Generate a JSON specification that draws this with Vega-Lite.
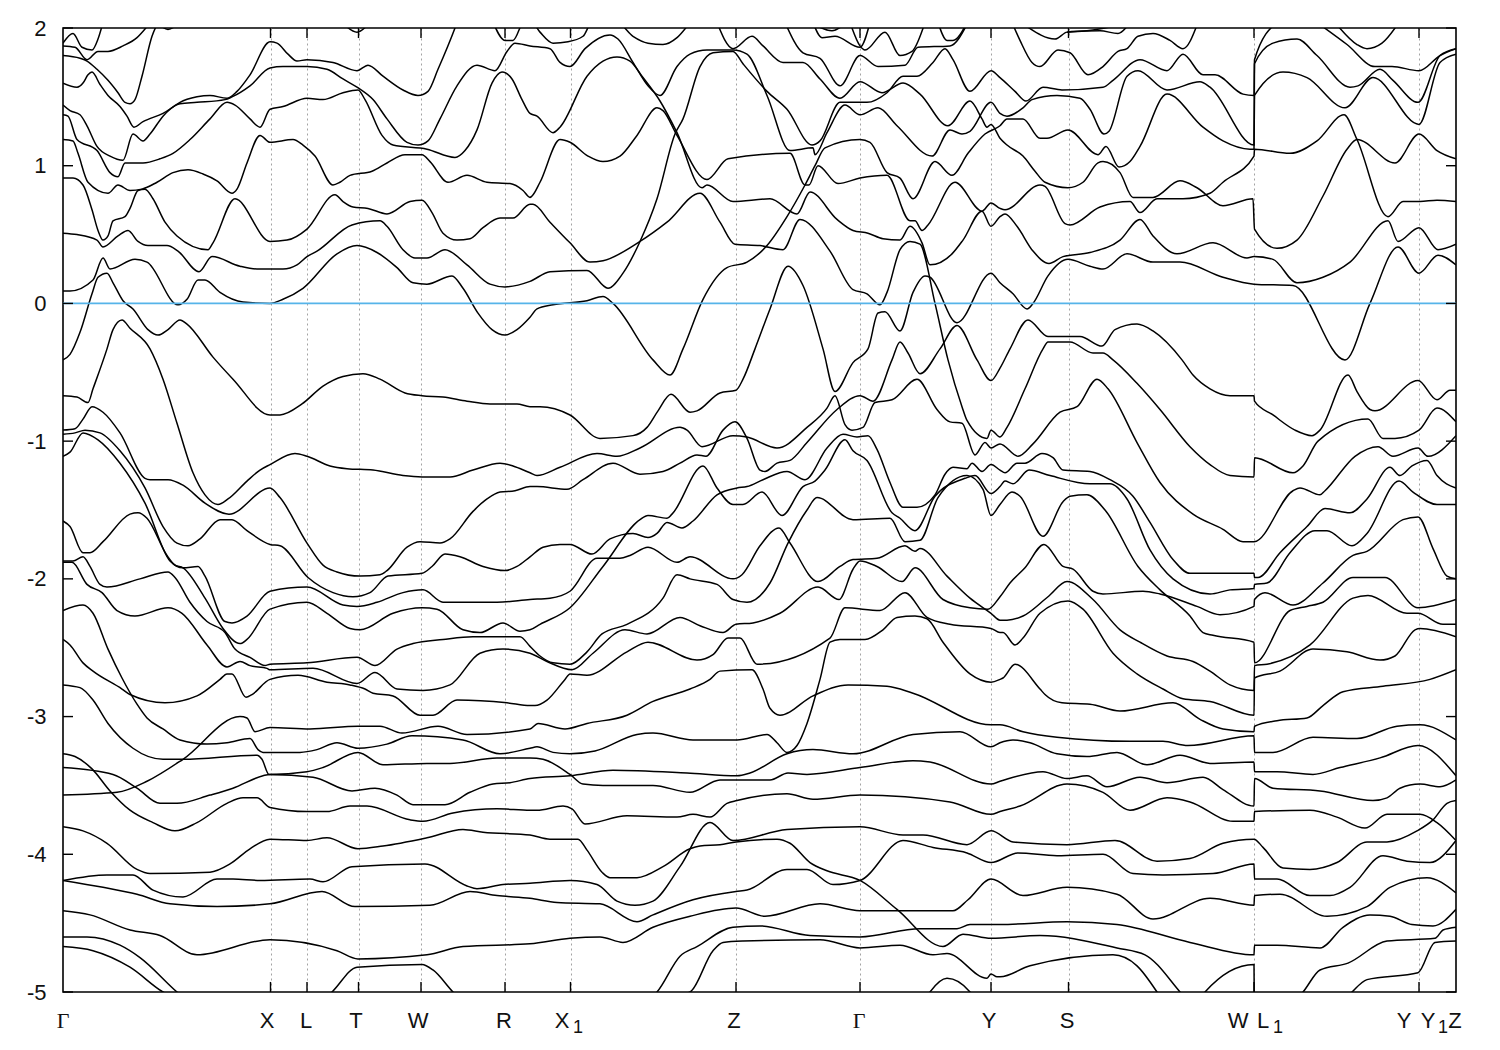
{"$schema":"https://vega.github.io/schema/vega-lite/v6.json","width":1393,"height":964,"autosize":{"type":"none"},"padding":{"left":63,"top":28,"right":44,"bottom":58},"background":"white","config":{"view":{"stroke":"#000","strokeWidth":1.6},"axis":{"labelFont":"Liberation Sans","labelFontSize":22,"labelColor":"#111","domain":false}},"datasets":{"bands":[
{"b":1,"x":63,"y":1.89},{"b":1,"x":73,"y":1.96},{"b":1,"x":82,"y":1.86},{"b":1,"x":92,"y":1.84},{"b":1,"x":98,"y":1.92},{"b":1,"x":103,"y":2.04},
{"b":2,"x":63,"y":1.87},{"b":2,"x":75,"y":1.86},{"b":2,"x":87,"y":1.77},{"b":2,"x":98,"y":1.83},{"b":2,"x":108,"y":1.83},{"b":2,"x":123,"y":1.87},{"b":2,"x":137,"y":1.93},{"b":2,"x":147,"y":2.01},
{"b":3,"x":63,"y":1.8},{"b":3,"x":80,"y":1.78},{"b":3,"x":87,"y":1.76},{"b":3,"x":97,"y":1.7},{"b":3,"x":108,"y":1.62},{"b":3,"x":118,"y":1.53},{"b":3,"x":125,"y":1.46},{"b":3,"x":130,"y":1.45},{"b":3,"x":135,"y":1.48},{"b":3,"x":142,"y":1.65},{"b":3,"x":152,"y":1.94},{"b":3,"x":158,"y":2.04},
{"b":4,"x":157,"y":2.04},{"b":4,"x":168,"y":1.99},{"b":4,"x":180,"y":2.04},
{"b":5,"x":342,"y":2.04},{"b":5,"x":357,"y":1.97},{"b":5,"x":370,"y":2.04},
{"b":6,"x":492,"y":2.06},{"b":6,"x":505,"y":1.91},{"b":6,"x":513,"y":1.91},{"b":6,"x":525,"y":2.06},{"b":6,"x":530,"y":2.06},{"b":6,"x":540,"y":1.97},{"b":6,"x":553,"y":1.89},{"b":6,"x":568,"y":1.9},{"b":6,"x":583,"y":1.94},{"b":6,"x":592,"y":2.04},{"b":6,"x":617,"y":2.04},{"b":6,"x":633,"y":1.94},{"b":6,"x":648,"y":1.89},{"b":6,"x":663,"y":1.88},{"b":6,"x":677,"y":1.93},{"b":6,"x":690,"y":2.04},
{"b":7,"x":63,"y":1.6},{"b":7,"x":77,"y":1.57},{"b":7,"x":83,"y":1.6},{"b":7,"x":88,"y":1.66},{"b":7,"x":92,"y":1.68},{"b":7,"x":100,"y":1.59},{"b":7,"x":108,"y":1.51},{"b":7,"x":120,"y":1.43},{"b":7,"x":127,"y":1.36},{"b":7,"x":134,"y":1.28},{"b":7,"x":143,"y":1.32},{"b":7,"x":163,"y":1.38},{"b":7,"x":180,"y":1.45},{"b":7,"x":197,"y":1.46},{"b":7,"x":225,"y":1.48},{"b":7,"x":232,"y":1.5},{"b":7,"x":250,"y":1.58},{"b":7,"x":270,"y":1.71},{"b":7,"x":283,"y":1.72},{"b":7,"x":307,"y":1.72},{"b":7,"x":327,"y":1.7},{"b":7,"x":343,"y":1.63},{"b":7,"x":357,"y":1.57},{"b":7,"x":373,"y":1.48},{"b":7,"x":387,"y":1.34},{"b":7,"x":407,"y":1.17},{"b":7,"x":418,"y":1.15},{"b":7,"x":428,"y":1.18},{"b":7,"x":440,"y":1.34},{"b":7,"x":457,"y":1.58},{"b":7,"x":477,"y":1.73},{"b":7,"x":495,"y":1.69},{"b":7,"x":507,"y":1.83},{"b":7,"x":515,"y":1.89},{"b":7,"x":530,"y":1.87},{"b":7,"x":550,"y":1.85},{"b":7,"x":560,"y":1.75},{"b":7,"x":570,"y":1.72},{"b":7,"x":585,"y":1.85},{"b":7,"x":610,"y":1.95},{"b":7,"x":618,"y":1.92},{"b":7,"x":633,"y":1.75},{"b":7,"x":648,"y":1.58},{"b":7,"x":660,"y":1.51},{"b":7,"x":677,"y":1.72},{"b":7,"x":690,"y":1.81},{"b":7,"x":707,"y":1.84},{"b":7,"x":733,"y":1.84},{"b":7,"x":747,"y":1.81},{"b":7,"x":767,"y":1.51},{"b":7,"x":790,"y":1.11},{"b":7,"x":813,"y":1.13},{"b":7,"x":815,"y":1.08},{"b":7,"x":827,"y":1.24},{"b":7,"x":845,"y":1.44},{"b":7,"x":860,"y":1.37},{"b":7,"x":878,"y":1.42},{"b":7,"x":897,"y":1.29},{"b":7,"x":932,"y":1.07},{"b":7,"x":950,"y":1.26},{"b":7,"x":962,"y":1.23},{"b":7,"x":970,"y":1.25},{"b":7,"x":991,"y":1.46},{"b":7,"x":1000,"y":1.38},{"b":7,"x":1007,"y":1.36},{"b":7,"x":1023,"y":1.42},{"b":7,"x":1032,"y":1.48},{"b":7,"x":1057,"y":1.51},{"b":7,"x":1080,"y":1.49},{"b":7,"x":1090,"y":1.41},{"b":7,"x":1104,"y":1.23},{"b":7,"x":1109,"y":1.25},{"b":7,"x":1127,"y":1.65},{"b":7,"x":1138,"y":1.69},{"b":7,"x":1167,"y":1.55},{"b":7,"x":1200,"y":1.61},{"b":7,"x":1210,"y":1.57},{"b":7,"x":1254,"y":1.15},{"b":7,"x":1254.5,"y":1.74},{"b":7,"x":1273,"y":1.89},{"b":7,"x":1297,"y":1.92},{"b":7,"x":1317,"y":1.8},{"b":7,"x":1350,"y":1.57},{"b":7,"x":1358,"y":1.58},{"b":7,"x":1380,"y":1.7},{"b":7,"x":1393,"y":1.62},{"b":7,"x":1418,"y":1.46},{"b":7,"x":1440,"y":1.8},{"b":7,"x":1456,"y":1.85},
{"b":8,"x":63,"y":1.44},{"b":8,"x":70,"y":1.4},{"b":8,"x":80,"y":1.37},{"b":8,"x":87,"y":1.29},{"b":8,"x":97,"y":1.14},{"b":8,"x":110,"y":1.07},{"b":8,"x":123,"y":1.04},{"b":8,"x":133,"y":1.23},{"b":8,"x":143,"y":1.18},{"b":8,"x":150,"y":1.23},{"b":8,"x":163,"y":1.36},{"b":8,"x":180,"y":1.46},{"b":8,"x":197,"y":1.5},{"b":8,"x":210,"y":1.51},{"b":8,"x":227,"y":1.49},{"b":8,"x":237,"y":1.54},{"b":8,"x":250,"y":1.66},{"b":8,"x":270,"y":1.9},{"b":8,"x":277,"y":1.89},{"b":8,"x":288,"y":1.81},{"b":8,"x":297,"y":1.76},{"b":8,"x":307,"y":1.77},{"b":8,"x":333,"y":1.75},{"b":8,"x":357,"y":1.69},{"b":8,"x":368,"y":1.73},{"b":8,"x":383,"y":1.65},{"b":8,"x":403,"y":1.55},{"b":8,"x":418,"y":1.51},{"b":8,"x":428,"y":1.54},{"b":8,"x":438,"y":1.7},{"b":8,"x":455,"y":2.0},{"b":8,"x":463,"y":2.16},
{"b":9,"x":63,"y":1.37},{"b":9,"x":68,"y":1.36},{"b":9,"x":77,"y":1.19},{"b":9,"x":97,"y":1.11},{"b":9,"x":110,"y":0.95},{"b":9,"x":118,"y":0.92},{"b":9,"x":125,"y":1.02},{"b":9,"x":143,"y":1.02},{"b":9,"x":160,"y":1.05},{"b":9,"x":173,"y":1.09},{"b":9,"x":190,"y":1.19},{"b":9,"x":210,"y":1.34},{"b":9,"x":227,"y":1.46},{"b":9,"x":235,"y":1.44},{"b":9,"x":250,"y":1.34},{"b":9,"x":260,"y":1.28},{"b":9,"x":270,"y":1.41},{"b":9,"x":283,"y":1.43},{"b":9,"x":307,"y":1.49},{"b":9,"x":323,"y":1.48},{"b":9,"x":343,"y":1.53},{"b":9,"x":358,"y":1.55},{"b":9,"x":365,"y":1.48},{"b":9,"x":382,"y":1.22},{"b":9,"x":393,"y":1.15},{"b":9,"x":427,"y":1.12},{"b":9,"x":455,"y":1.06},{"b":9,"x":465,"y":1.11},{"b":9,"x":477,"y":1.26},{"b":9,"x":492,"y":1.6},{"b":9,"x":502,"y":1.68},{"b":9,"x":512,"y":1.63},{"b":9,"x":522,"y":1.48},{"b":9,"x":530,"y":1.38},{"b":9,"x":537,"y":1.36},{"b":9,"x":553,"y":1.24},{"b":9,"x":560,"y":1.28},{"b":9,"x":587,"y":1.65},{"b":9,"x":603,"y":1.76},{"b":9,"x":617,"y":1.79},{"b":9,"x":630,"y":1.76},{"b":9,"x":643,"y":1.64},{"b":9,"x":660,"y":1.47},{"b":9,"x":677,"y":1.24},{"b":9,"x":702,"y":0.84},{"b":9,"x":707,"y":0.86},{"b":9,"x":733,"y":0.74},{"b":9,"x":770,"y":0.76},{"b":9,"x":797,"y":0.65},{"b":9,"x":810,"y":0.81},{"b":9,"x":837,"y":0.61},{"b":9,"x":853,"y":0.53},{"b":9,"x":868,"y":0.51},{"b":9,"x":883,"y":0.47},{"b":9,"x":900,"y":0.46},{"b":9,"x":910,"y":0.56},{"b":9,"x":922,"y":0.44},{"b":9,"x":930,"y":0.28},{"b":9,"x":952,"y":0.36},{"b":9,"x":963,"y":0.46},{"b":9,"x":982,"y":0.67},{"b":9,"x":991,"y":0.56},{"b":9,"x":1000,"y":0.63},{"b":9,"x":1005,"y":0.65},{"b":9,"x":1017,"y":0.56},{"b":9,"x":1033,"y":0.38},{"b":9,"x":1049,"y":0.29},{"b":9,"x":1063,"y":0.34},{"b":9,"x":1090,"y":0.37},{"b":9,"x":1120,"y":0.46},{"b":9,"x":1140,"y":0.61},{"b":9,"x":1153,"y":0.49},{"b":9,"x":1177,"y":0.36},{"b":9,"x":1213,"y":0.44},{"b":9,"x":1247,"y":0.33},{"b":9,"x":1254,"y":0.34},{"b":9,"x":1273,"y":0.32},{"b":9,"x":1297,"y":0.15},{"b":9,"x":1323,"y":0.19},{"b":9,"x":1350,"y":0.3},{"b":9,"x":1388,"y":0.6},{"b":9,"x":1398,"y":0.45},{"b":9,"x":1419,"y":0.55},{"b":9,"x":1438,"y":0.39},{"b":9,"x":1456,"y":0.43},
{"b":10,"x":63,"y":1.19},{"b":10,"x":73,"y":1.18},{"b":10,"x":78,"y":1.09},{"b":10,"x":88,"y":0.88},{"b":10,"x":108,"y":0.8},{"b":10,"x":118,"y":0.86},{"b":10,"x":130,"y":0.82},{"b":10,"x":142,"y":0.83},{"b":10,"x":157,"y":0.88},{"b":10,"x":173,"y":0.95},{"b":10,"x":188,"y":0.97},{"b":10,"x":203,"y":0.94},{"b":10,"x":217,"y":0.89},{"b":10,"x":232,"y":0.8},{"b":10,"x":237,"y":0.83},{"b":10,"x":247,"y":1.02},{"b":10,"x":260,"y":1.22},{"b":10,"x":270,"y":1.17},{"b":10,"x":293,"y":1.19},{"b":10,"x":303,"y":1.15},{"b":10,"x":315,"y":1.07},{"b":10,"x":333,"y":0.86},{"b":10,"x":340,"y":0.88},{"b":10,"x":350,"y":0.93},{"b":10,"x":372,"y":0.96},{"b":10,"x":387,"y":1.02},{"b":10,"x":405,"y":1.08},{"b":10,"x":422,"y":1.08},{"b":10,"x":430,"y":1.03},{"b":10,"x":448,"y":0.88},{"b":10,"x":467,"y":0.93},{"b":10,"x":487,"y":0.88},{"b":10,"x":510,"y":0.87},{"b":10,"x":523,"y":0.82},{"b":10,"x":530,"y":0.77},{"b":10,"x":532,"y":0.78},{"b":10,"x":540,"y":0.88},{"b":10,"x":560,"y":1.19},{"b":10,"x":570,"y":1.17},{"b":10,"x":588,"y":1.07},{"b":10,"x":603,"y":1.03},{"b":10,"x":620,"y":1.07},{"b":10,"x":637,"y":1.22},{"b":10,"x":657,"y":1.42},{"b":10,"x":663,"y":1.4},{"b":10,"x":677,"y":1.22},{"b":10,"x":707,"y":0.9},{"b":10,"x":728,"y":1.05},{"b":10,"x":790,"y":1.09},{"b":10,"x":805,"y":0.86},{"b":10,"x":809,"y":0.86},{"b":10,"x":818,"y":1.0},{"b":10,"x":838,"y":0.87},{"b":10,"x":860,"y":0.91},{"b":10,"x":887,"y":0.93},{"b":10,"x":910,"y":0.6},{"b":10,"x":915,"y":0.6},{"b":10,"x":922,"y":0.53},{"b":10,"x":928,"y":0.57},{"b":10,"x":955,"y":0.88},{"b":10,"x":982,"y":0.67},{"b":10,"x":991,"y":0.73},{"b":10,"x":1000,"y":0.69},{"b":10,"x":1005,"y":0.68},{"b":10,"x":1040,"y":0.86},{"b":10,"x":1045,"y":0.85},{"b":10,"x":1065,"y":0.58},{"b":10,"x":1070,"y":0.57},{"b":10,"x":1100,"y":0.7},{"b":10,"x":1130,"y":0.74},{"b":10,"x":1140,"y":0.66},{"b":10,"x":1157,"y":0.76},{"b":10,"x":1183,"y":0.76},{"b":10,"x":1210,"y":0.8},{"b":10,"x":1223,"y":0.88},{"b":10,"x":1254,"y":1.07},{"b":10,"x":1254.5,"y":1.12},{"b":10,"x":1290,"y":1.09},{"b":10,"x":1317,"y":1.18},{"b":10,"x":1344,"y":1.37},{"b":10,"x":1357,"y":1.19},{"b":10,"x":1388,"y":0.63},{"b":10,"x":1403,"y":0.74},{"b":10,"x":1420,"y":0.74},{"b":10,"x":1437,"y":0.75},{"b":10,"x":1456,"y":0.74},
{"b":11,"x":63,"y":0.91},{"b":11,"x":73,"y":0.91},{"b":11,"x":83,"y":0.86},{"b":11,"x":92,"y":0.68},{"b":11,"x":98,"y":0.53},{"b":11,"x":103,"y":0.46},{"b":11,"x":108,"y":0.49},{"b":11,"x":113,"y":0.6},{"b":11,"x":125,"y":0.63},{"b":11,"x":130,"y":0.69},{"b":11,"x":138,"y":0.82},{"b":11,"x":145,"y":0.83},{"b":11,"x":153,"y":0.76},{"b":11,"x":165,"y":0.59},{"b":11,"x":177,"y":0.49},{"b":11,"x":208,"y":0.39},{"b":11,"x":213,"y":0.44},{"b":11,"x":235,"y":0.76},{"b":11,"x":270,"y":0.45},{"b":11,"x":287,"y":0.46},{"b":11,"x":307,"y":0.54},{"b":11,"x":335,"y":0.79},{"b":11,"x":343,"y":0.74},{"b":11,"x":353,"y":0.7},{"b":11,"x":368,"y":0.69},{"b":11,"x":387,"y":0.65},{"b":11,"x":410,"y":0.74},{"b":11,"x":422,"y":0.75},{"b":11,"x":432,"y":0.66},{"b":11,"x":443,"y":0.51},{"b":11,"x":457,"y":0.46},{"b":11,"x":470,"y":0.47},{"b":11,"x":483,"y":0.55},{"b":11,"x":500,"y":0.62},{"b":11,"x":513,"y":0.62},{"b":11,"x":530,"y":0.72},{"b":11,"x":533,"y":0.72},{"b":11,"x":550,"y":0.59},{"b":11,"x":570,"y":0.44},{"b":11,"x":590,"y":0.3},{"b":11,"x":603,"y":0.31},{"b":11,"x":640,"y":0.45},{"b":11,"x":667,"y":0.59},{"b":11,"x":700,"y":0.8},{"b":11,"x":720,"y":0.59},{"b":11,"x":735,"y":0.43},{"b":11,"x":760,"y":0.42},{"b":11,"x":783,"y":0.39},{"b":11,"x":800,"y":0.61},{"b":11,"x":830,"y":0.38},{"b":11,"x":853,"y":0.1},{"b":11,"x":867,"y":0.07},{"b":11,"x":880,"y":-0.01},{"b":11,"x":887,"y":0.08},{"b":11,"x":900,"y":0.39},{"b":11,"x":910,"y":0.45},{"b":11,"x":920,"y":0.43},{"b":11,"x":935,"y":0.0},{"b":11,"x":948,"y":-0.41},{"b":11,"x":962,"y":-0.75},{"b":11,"x":967,"y":-0.85},{"b":11,"x":987,"y":-0.98},{"b":11,"x":991,"y":-0.92},{"b":11,"x":1000,"y":-0.97},{"b":11,"x":1007,"y":-0.9},{"b":11,"x":1025,"y":-0.62},{"b":11,"x":1043,"y":-0.33},{"b":11,"x":1048,"y":-0.28},{"b":11,"x":1070,"y":-0.28},{"b":11,"x":1093,"y":-0.36},{"b":11,"x":1103,"y":-0.36},{"b":11,"x":1113,"y":-0.41},{"b":11,"x":1137,"y":-0.58},{"b":11,"x":1160,"y":-0.77},{"b":11,"x":1190,"y":-1.04},{"b":11,"x":1210,"y":-1.17},{"b":11,"x":1230,"y":-1.25},{"b":11,"x":1254,"y":-1.26},{"b":11,"x":1254.5,"y":-1.12},{"b":11,"x":1293,"y":-1.23},{"b":11,"x":1303,"y":-1.18},{"b":11,"x":1318,"y":-1.0},{"b":11,"x":1368,"y":-0.84},{"b":11,"x":1383,"y":-0.98},{"b":11,"x":1395,"y":-0.98},{"b":11,"x":1419,"y":-0.92},{"b":11,"x":1437,"y":-0.76},{"b":11,"x":1456,"y":-0.86},
{"b":12,"x":63,"y":0.51},{"b":12,"x":77,"y":0.5},{"b":12,"x":97,"y":0.46},{"b":12,"x":103,"y":0.41},{"b":12,"x":118,"y":0.49},{"b":12,"x":128,"y":0.53},{"b":12,"x":138,"y":0.45},{"b":12,"x":148,"y":0.42},{"b":12,"x":167,"y":0.42},{"b":12,"x":178,"y":0.38},{"b":12,"x":199,"y":0.23},{"b":12,"x":212,"y":0.34},{"b":12,"x":240,"y":0.27},{"b":12,"x":257,"y":0.25},{"b":12,"x":283,"y":0.25},{"b":12,"x":297,"y":0.28},{"b":12,"x":307,"y":0.34},{"b":12,"x":317,"y":0.38},{"b":12,"x":352,"y":0.57},{"b":12,"x":380,"y":0.6},{"b":12,"x":387,"y":0.56},{"b":12,"x":403,"y":0.39},{"b":12,"x":415,"y":0.33},{"b":12,"x":427,"y":0.33},{"b":12,"x":445,"y":0.39},{"b":12,"x":467,"y":0.28},{"b":12,"x":490,"y":0.14},{"b":12,"x":505,"y":0.12},{"b":12,"x":530,"y":0.16},{"b":12,"x":550,"y":0.23},{"b":12,"x":587,"y":0.24},{"b":12,"x":608,"y":0.11},{"b":12,"x":623,"y":0.22},{"b":12,"x":640,"y":0.45},{"b":12,"x":657,"y":0.76},{"b":12,"x":675,"y":1.23},{"b":12,"x":683,"y":1.34},{"b":12,"x":700,"y":1.72},{"b":12,"x":713,"y":1.82},{"b":12,"x":733,"y":1.83},{"b":12,"x":743,"y":1.74},{"b":12,"x":767,"y":1.54},{"b":12,"x":787,"y":1.41},{"b":12,"x":812,"y":1.15},{"b":12,"x":820,"y":1.18},{"b":12,"x":840,"y":1.46},{"b":12,"x":867,"y":1.46},{"b":12,"x":887,"y":1.53},{"b":12,"x":903,"y":1.65},{"b":12,"x":917,"y":1.65},{"b":12,"x":933,"y":1.75},{"b":12,"x":945,"y":1.85},{"b":12,"x":953,"y":1.77},{"b":12,"x":970,"y":1.54},{"b":12,"x":991,"y":1.69},{"b":12,"x":1000,"y":1.64},{"b":12,"x":1015,"y":1.54},{"b":12,"x":1026,"y":1.47},{"b":12,"x":1043,"y":1.57},{"b":12,"x":1062,"y":1.55},{"b":12,"x":1103,"y":1.57},{"b":12,"x":1113,"y":1.62},{"b":12,"x":1140,"y":1.77},{"b":12,"x":1167,"y":1.69},{"b":12,"x":1183,"y":1.81},{"b":12,"x":1203,"y":1.66},{"b":12,"x":1215,"y":1.66},{"b":12,"x":1243,"y":1.52},{"b":12,"x":1254,"y":1.51},{"b":12,"x":1254.5,"y":1.77},{"b":12,"x":1277,"y":2.04},
{"b":13,"x":63,"y":0.09},{"b":13,"x":70,"y":0.09},{"b":13,"x":93,"y":0.17},{"b":13,"x":103,"y":0.33},{"b":13,"x":110,"y":0.25},{"b":13,"x":135,"y":0.32},{"b":13,"x":147,"y":0.3},{"b":13,"x":178,"y":-0.01},{"b":13,"x":187,"y":0.03},{"b":13,"x":198,"y":0.17},{"b":13,"x":205,"y":0.17},{"b":13,"x":220,"y":0.08},{"b":13,"x":243,"y":0.01},{"b":13,"x":270,"y":0.0},{"b":13,"x":283,"y":0.03},{"b":13,"x":303,"y":0.11},{"b":13,"x":337,"y":0.36},{"b":13,"x":357,"y":0.42},{"b":13,"x":377,"y":0.37},{"b":13,"x":397,"y":0.26},{"b":13,"x":413,"y":0.15},{"b":13,"x":427,"y":0.14},{"b":13,"x":452,"y":0.2},{"b":13,"x":463,"y":0.11},{"b":13,"x":478,"y":-0.07},{"b":13,"x":492,"y":-0.19},{"b":13,"x":505,"y":-0.23},{"b":13,"x":517,"y":-0.19},{"b":13,"x":530,"y":-0.1},{"b":13,"x":537,"y":-0.04},{"b":13,"x":553,"y":-0.01},{"b":13,"x":587,"y":0.02},{"b":13,"x":603,"y":0.05},{"b":13,"x":613,"y":0.0},{"b":13,"x":653,"y":-0.41},{"b":13,"x":670,"y":-0.52},{"b":13,"x":683,"y":-0.33},{"b":13,"x":703,"y":0.03},{"b":13,"x":727,"y":0.26},{"b":13,"x":747,"y":0.3},{"b":13,"x":767,"y":0.42},{"b":13,"x":787,"y":0.63},{"b":13,"x":805,"y":0.86},{"b":13,"x":815,"y":1.0},{"b":13,"x":825,"y":1.13},{"b":13,"x":860,"y":1.19},{"b":13,"x":870,"y":1.17},{"b":13,"x":887,"y":0.95},{"b":13,"x":900,"y":0.91},{"b":13,"x":913,"y":0.76},{"b":13,"x":935,"y":1.03},{"b":13,"x":952,"y":0.93},{"b":13,"x":968,"y":1.09},{"b":13,"x":985,"y":1.23},{"b":13,"x":1000,"y":1.29},{"b":13,"x":1007,"y":1.34},{"b":13,"x":1023,"y":1.34},{"b":13,"x":1040,"y":1.2},{"b":13,"x":1047,"y":1.2},{"b":13,"x":1068,"y":1.26},{"b":13,"x":1098,"y":1.08},{"b":13,"x":1106,"y":1.14},{"b":13,"x":1119,"y":0.99},{"b":13,"x":1130,"y":1.03},{"b":13,"x":1140,"y":1.14},{"b":13,"x":1167,"y":1.52},{"b":13,"x":1203,"y":1.28},{"b":13,"x":1223,"y":1.18},{"b":13,"x":1250,"y":1.12},{"b":13,"x":1254,"y":1.12},{"b":13,"x":1254.5,"y":1.51},{"b":13,"x":1283,"y":1.68},{"b":13,"x":1307,"y":1.64},{"b":13,"x":1345,"y":1.42},{"b":13,"x":1373,"y":1.64},{"b":13,"x":1419,"y":1.3},{"b":13,"x":1440,"y":1.75},{"b":13,"x":1456,"y":1.81},
{"b":14,"x":717,"y":2.04},{"b":14,"x":733,"y":1.85},{"b":14,"x":752,"y":1.94},{"b":14,"x":763,"y":1.87},{"b":14,"x":783,"y":1.75},{"b":14,"x":803,"y":1.75},{"b":14,"x":820,"y":1.63},{"b":14,"x":840,"y":1.49},{"b":14,"x":860,"y":1.61},{"b":14,"x":882,"y":1.53},{"b":14,"x":903,"y":1.6},{"b":14,"x":920,"y":1.52},{"b":14,"x":948,"y":1.29},{"b":14,"x":970,"y":1.47},{"b":14,"x":982,"y":1.34},{"b":14,"x":987,"y":1.28},{"b":14,"x":991,"y":1.3},{"b":14,"x":1000,"y":1.2},{"b":14,"x":1007,"y":1.15},{"b":14,"x":1023,"y":1.07},{"b":14,"x":1035,"y":0.96},{"b":14,"x":1045,"y":0.88},{"b":14,"x":1068,"y":0.84},{"b":14,"x":1083,"y":0.88},{"b":14,"x":1098,"y":1.02},{"b":14,"x":1103,"y":1.03},{"b":14,"x":1120,"y":0.95},{"b":14,"x":1133,"y":0.77},{"b":14,"x":1153,"y":0.77},{"b":14,"x":1180,"y":0.89},{"b":14,"x":1197,"y":0.84},{"b":14,"x":1223,"y":0.71},{"b":14,"x":1253,"y":0.76},{"b":14,"x":1254.5,"y":0.54},{"b":14,"x":1277,"y":0.4},{"b":14,"x":1297,"y":0.46},{"b":14,"x":1323,"y":0.78},{"b":14,"x":1347,"y":1.12},{"b":14,"x":1357,"y":1.19},{"b":14,"x":1395,"y":1.02},{"b":14,"x":1419,"y":1.23},{"b":14,"x":1437,"y":1.11},{"b":14,"x":1456,"y":1.05},
{"b":15,"x":63,"y":-0.41},{"b":15,"x":70,"y":-0.37},{"b":15,"x":80,"y":-0.21},{"b":15,"x":92,"y":0.07},{"b":15,"x":98,"y":0.19},{"b":15,"x":107,"y":0.22},{"b":15,"x":113,"y":0.15},{"b":15,"x":123,"y":0.02},{"b":15,"x":133,"y":-0.04},{"b":15,"x":148,"y":-0.19},{"b":15,"x":158,"y":-0.23},{"b":15,"x":168,"y":-0.19},{"b":15,"x":180,"y":-0.12},{"b":15,"x":187,"y":-0.15},{"b":15,"x":213,"y":-0.39},{"b":15,"x":233,"y":-0.55},{"b":15,"x":270,"y":-0.81},{"b":15,"x":280,"y":-0.81},{"b":15,"x":302,"y":-0.73},{"b":15,"x":323,"y":-0.6},{"b":15,"x":343,"y":-0.53},{"b":15,"x":363,"y":-0.51},{"b":15,"x":380,"y":-0.55},{"b":15,"x":405,"y":-0.65},{"b":15,"x":422,"y":-0.67},{"b":15,"x":443,"y":-0.68},{"b":15,"x":467,"y":-0.71},{"b":15,"x":490,"y":-0.73},{"b":15,"x":517,"y":-0.73},{"b":15,"x":530,"y":-0.75},{"b":15,"x":540,"y":-0.75},{"b":15,"x":570,"y":-0.81},{"b":15,"x":600,"y":-0.98},{"b":15,"x":633,"y":-0.96},{"b":15,"x":647,"y":-0.9},{"b":15,"x":658,"y":-0.78},{"b":15,"x":671,"y":-0.66},{"b":15,"x":690,"y":-0.79},{"b":15,"x":697,"y":-0.78},{"b":15,"x":720,"y":-0.65},{"b":15,"x":736,"y":-0.63},{"b":15,"x":743,"y":-0.55},{"b":15,"x":755,"y":-0.33},{"b":15,"x":770,"y":-0.04},{"b":15,"x":788,"y":0.27},{"b":15,"x":803,"y":0.13},{"b":15,"x":823,"y":-0.33},{"b":15,"x":835,"y":-0.64},{"b":15,"x":853,"y":-0.43},{"b":15,"x":868,"y":-0.33},{"b":15,"x":878,"y":-0.07},{"b":15,"x":885,"y":-0.06},{"b":15,"x":900,"y":-0.2},{"b":15,"x":913,"y":0.08},{"b":15,"x":925,"y":0.2},{"b":15,"x":930,"y":0.19},{"b":15,"x":957,"y":-0.14},{"b":15,"x":991,"y":0.22},{"b":15,"x":1000,"y":0.15},{"b":15,"x":1013,"y":0.07},{"b":15,"x":1027,"y":-0.04},{"b":15,"x":1033,"y":0.0},{"b":15,"x":1048,"y":0.2},{"b":15,"x":1068,"y":0.32},{"b":15,"x":1090,"y":0.27},{"b":15,"x":1103,"y":0.25},{"b":15,"x":1127,"y":0.36},{"b":15,"x":1153,"y":0.3},{"b":15,"x":1180,"y":0.3},{"b":15,"x":1223,"y":0.19},{"b":15,"x":1254,"y":0.14},{"b":15,"x":1293,"y":0.13},{"b":15,"x":1345,"y":-0.41},{"b":15,"x":1370,"y":0.0},{"b":15,"x":1398,"y":0.41},{"b":15,"x":1419,"y":0.22},{"b":15,"x":1438,"y":0.35},{"b":15,"x":1456,"y":0.28},
{"b":16,"x":63,"y":-0.67},{"b":16,"x":77,"y":-0.68},{"b":16,"x":88,"y":-0.72},{"b":16,"x":93,"y":-0.62},{"b":16,"x":107,"y":-0.33},{"b":16,"x":113,"y":-0.19},{"b":16,"x":122,"y":-0.12},{"b":16,"x":130,"y":-0.18},{"b":16,"x":150,"y":-0.33},{"b":16,"x":163,"y":-0.55},{"b":16,"x":177,"y":-0.87},{"b":16,"x":193,"y":-1.23},{"b":16,"x":205,"y":-1.39},{"b":16,"x":218,"y":-1.46},{"b":16,"x":228,"y":-1.42},{"b":16,"x":247,"y":-1.29},{"b":16,"x":260,"y":-1.21},{"b":16,"x":270,"y":-1.17},{"b":16,"x":295,"y":-1.09},{"b":16,"x":307,"y":-1.11},{"b":16,"x":330,"y":-1.18},{"b":16,"x":347,"y":-1.2},{"b":16,"x":373,"y":-1.21},{"b":16,"x":403,"y":-1.25},{"b":16,"x":422,"y":-1.26},{"b":16,"x":450,"y":-1.26},{"b":16,"x":473,"y":-1.21},{"b":16,"x":500,"y":-1.16},{"b":16,"x":513,"y":-1.18},{"b":16,"x":530,"y":-1.23},{"b":16,"x":537,"y":-1.25},{"b":16,"x":560,"y":-1.19},{"b":16,"x":597,"y":-1.09},{"b":16,"x":617,"y":-1.11},{"b":16,"x":640,"y":-1.05},{"b":16,"x":680,"y":-0.9},{"b":16,"x":687,"y":-0.92},{"b":16,"x":702,"y":-1.04},{"b":16,"x":733,"y":-0.96},{"b":16,"x":747,"y":-0.97},{"b":16,"x":777,"y":-1.05},{"b":16,"x":807,"y":-0.9},{"b":16,"x":827,"y":-0.76},{"b":16,"x":835,"y":-0.67},{"b":16,"x":845,"y":-0.88},{"b":16,"x":852,"y":-0.92},{"b":16,"x":863,"y":-0.9},{"b":16,"x":875,"y":-0.72},{"b":16,"x":892,"y":-0.7},{"b":16,"x":917,"y":-0.55},{"b":16,"x":937,"y":-0.77},{"b":16,"x":950,"y":-0.86},{"b":16,"x":962,"y":-0.87},{"b":16,"x":975,"y":-1.1},{"b":16,"x":985,"y":-1.01},{"b":16,"x":991,"y":-1.05},{"b":16,"x":1000,"y":-1.02},{"b":16,"x":1018,"y":-1.11},{"b":16,"x":1033,"y":-1.02},{"b":16,"x":1060,"y":-0.79},{"b":16,"x":1077,"y":-0.75},{"b":16,"x":1097,"y":-0.55},{"b":16,"x":1108,"y":-0.62},{"b":16,"x":1137,"y":-1.01},{"b":16,"x":1160,"y":-1.3},{"b":16,"x":1193,"y":-1.53},{"b":16,"x":1223,"y":-1.64},{"b":16,"x":1243,"y":-1.73},{"b":16,"x":1254,"y":-1.73},{"b":16,"x":1293,"y":-1.36},{"b":16,"x":1300,"y":-1.34},{"b":16,"x":1320,"y":-1.39},{"b":16,"x":1325,"y":-1.36},{"b":16,"x":1355,"y":-1.11},{"b":16,"x":1378,"y":-1.04},{"b":16,"x":1393,"y":-1.11},{"b":16,"x":1418,"y":-1.05},{"b":16,"x":1428,"y":-1.11},{"b":16,"x":1456,"y":-0.96},
{"b":17,"x":63,"y":-0.92},{"b":17,"x":75,"y":-0.91},{"b":17,"x":83,"y":-0.84},{"b":17,"x":92,"y":-0.75},{"b":17,"x":103,"y":-0.79},{"b":17,"x":120,"y":-0.94},{"b":17,"x":145,"y":-1.27},{"b":17,"x":150,"y":-1.28},{"b":17,"x":168,"y":-1.28},{"b":17,"x":183,"y":-1.32},{"b":17,"x":205,"y":-1.45},{"b":17,"x":229,"y":-1.53},{"b":17,"x":270,"y":-1.34},{"b":17,"x":280,"y":-1.41},{"b":17,"x":307,"y":-1.74},{"b":17,"x":323,"y":-1.9},{"b":17,"x":337,"y":-1.95},{"b":17,"x":360,"y":-1.98},{"b":17,"x":380,"y":-1.97},{"b":17,"x":387,"y":-1.94},{"b":17,"x":407,"y":-1.77},{"b":17,"x":420,"y":-1.73},{"b":17,"x":440,"y":-1.74},{"b":17,"x":450,"y":-1.71},{"b":17,"x":473,"y":-1.51},{"b":17,"x":487,"y":-1.42},{"b":17,"x":500,"y":-1.37},{"b":17,"x":515,"y":-1.36},{"b":17,"x":530,"y":-1.33},{"b":17,"x":537,"y":-1.33},{"b":17,"x":567,"y":-1.35},{"b":17,"x":583,"y":-1.28},{"b":17,"x":613,"y":-1.16},{"b":17,"x":640,"y":-1.24},{"b":17,"x":663,"y":-1.22},{"b":17,"x":680,"y":-1.16},{"b":17,"x":697,"y":-1.1},{"b":17,"x":706,"y":-1.11},{"b":17,"x":723,"y":-0.92},{"b":17,"x":735,"y":-0.86},{"b":17,"x":747,"y":-0.98},{"b":17,"x":760,"y":-1.21},{"b":17,"x":765,"y":-1.22},{"b":17,"x":777,"y":-1.16},{"b":17,"x":790,"y":-1.14},{"b":17,"x":807,"y":-1.01},{"b":17,"x":837,"y":-0.77},{"b":17,"x":860,"y":-0.67},{"b":17,"x":873,"y":-0.71},{"b":17,"x":892,"y":-0.41},{"b":17,"x":900,"y":-0.28},{"b":17,"x":908,"y":-0.36},{"b":17,"x":920,"y":-0.51},{"b":17,"x":940,"y":-0.33},{"b":17,"x":957,"y":-0.16},{"b":17,"x":977,"y":-0.41},{"b":17,"x":991,"y":-0.56},{"b":17,"x":1000,"y":-0.47},{"b":17,"x":1010,"y":-0.33},{"b":17,"x":1028,"y":-0.12},{"b":17,"x":1048,"y":-0.24},{"b":17,"x":1080,"y":-0.24},{"b":17,"x":1102,"y":-0.31},{"b":17,"x":1115,"y":-0.19},{"b":17,"x":1137,"y":-0.15},{"b":17,"x":1153,"y":-0.2},{"b":17,"x":1182,"y":-0.41},{"b":17,"x":1193,"y":-0.52},{"b":17,"x":1210,"y":-0.62},{"b":17,"x":1230,"y":-0.67},{"b":17,"x":1254,"y":-0.67},{"b":17,"x":1254.5,"y":-0.71},{"b":17,"x":1273,"y":-0.81},{"b":17,"x":1295,"y":-0.92},{"b":17,"x":1312,"y":-0.96},{"b":17,"x":1320,"y":-0.92},{"b":17,"x":1348,"y":-0.52},{"b":17,"x":1357,"y":-0.64},{"b":17,"x":1370,"y":-0.77},{"b":17,"x":1375,"y":-0.78},{"b":17,"x":1418,"y":-0.56},{"b":17,"x":1437,"y":-0.7},{"b":17,"x":1450,"y":-0.63},{"b":17,"x":1456,"y":-0.63},
{"b":18,"x":63,"y":-0.95},{"b":18,"x":75,"y":-0.94},{"b":18,"x":85,"y":-0.92},{"b":18,"x":100,"y":-0.94},{"b":18,"x":120,"y":-1.07},{"b":18,"x":145,"y":-1.34},{"b":18,"x":163,"y":-1.62},{"b":18,"x":177,"y":-1.74},{"b":18,"x":188,"y":-1.76},{"b":18,"x":200,"y":-1.71},{"b":18,"x":220,"y":-1.57},{"b":18,"x":232,"y":-1.57},{"b":18,"x":247,"y":-1.65},{"b":18,"x":270,"y":-1.75},{"b":18,"x":280,"y":-1.76},{"b":18,"x":308,"y":-1.99},{"b":18,"x":333,"y":-2.1},{"b":18,"x":353,"y":-2.13},{"b":18,"x":370,"y":-2.1},{"b":18,"x":388,"y":-1.98},{"b":18,"x":422,"y":-1.96},{"b":18,"x":432,"y":-1.91},{"b":18,"x":445,"y":-1.82},{"b":18,"x":460,"y":-1.84},{"b":18,"x":483,"y":-1.91},{"b":18,"x":505,"y":-1.94},{"b":18,"x":517,"y":-1.91},{"b":18,"x":530,"y":-1.84},{"b":18,"x":543,"y":-1.77},{"b":18,"x":560,"y":-1.75},{"b":18,"x":570,"y":-1.75},{"b":18,"x":592,"y":-1.82},{"b":18,"x":610,"y":-1.71},{"b":18,"x":633,"y":-1.67},{"b":18,"x":648,"y":-1.7},{"b":18,"x":657,"y":-1.67},{"b":18,"x":667,"y":-1.59},{"b":18,"x":682,"y":-1.63},{"b":18,"x":693,"y":-1.58},{"b":18,"x":717,"y":-1.39},{"b":18,"x":737,"y":-1.34},{"b":18,"x":747,"y":-1.33},{"b":18,"x":763,"y":-1.28},{"b":18,"x":787,"y":-1.22},{"b":18,"x":805,"y":-1.28},{"b":18,"x":827,"y":-1.05},{"b":18,"x":843,"y":-0.95},{"b":18,"x":857,"y":-0.97},{"b":18,"x":868,"y":-0.96},{"b":18,"x":877,"y":-1.06},{"b":18,"x":890,"y":-1.3},{"b":18,"x":903,"y":-1.48},{"b":18,"x":917,"y":-1.48},{"b":18,"x":935,"y":-1.39},{"b":18,"x":945,"y":-1.24},{"b":18,"x":953,"y":-1.19},{"b":18,"x":967,"y":-1.2},{"b":18,"x":972,"y":-1.16},{"b":18,"x":982,"y":-1.22},{"b":18,"x":991,"y":-1.17},{"b":18,"x":1000,"y":-1.21},{"b":18,"x":1005,"y":-1.23},{"b":18,"x":1017,"y":-1.16},{"b":18,"x":1025,"y":-1.16},{"b":18,"x":1042,"y":-1.09},{"b":18,"x":1053,"y":-1.12},{"b":18,"x":1063,"y":-1.21},{"b":18,"x":1090,"y":-1.22},{"b":18,"x":1110,"y":-1.28},{"b":18,"x":1133,"y":-1.4},{"b":18,"x":1150,"y":-1.59},{"b":18,"x":1173,"y":-1.86},{"b":18,"x":1190,"y":-1.96},{"b":18,"x":1220,"y":-1.96},{"b":18,"x":1254,"y":-1.96},{"b":18,"x":1254.5,"y":-1.99},{"b":18,"x":1258,"y":-1.99},{"b":18,"x":1280,"y":-1.81},{"b":18,"x":1307,"y":-1.62},{"b":18,"x":1325,"y":-1.49},{"b":18,"x":1350,"y":-1.52},{"b":18,"x":1367,"y":-1.42},{"b":18,"x":1390,"y":-1.19},{"b":18,"x":1400,"y":-1.25},{"b":18,"x":1412,"y":-1.18},{"b":18,"x":1427,"y":-1.14},{"b":18,"x":1437,"y":-1.25},{"b":18,"x":1456,"y":-1.34},
{"b":19,"x":63,"y":-1.11},{"b":19,"x":70,"y":-1.08},{"b":19,"x":83,"y":-0.94},{"b":19,"x":98,"y":-0.99},{"b":19,"x":120,"y":-1.16},{"b":19,"x":145,"y":-1.45},{"b":19,"x":170,"y":-1.87},{"b":19,"x":183,"y":-1.92},{"b":19,"x":198,"y":-1.91},{"b":19,"x":205,"y":-1.98},{"b":19,"x":225,"y":-2.31},{"b":19,"x":232,"y":-2.32},{"b":19,"x":247,"y":-2.27},{"b":19,"x":270,"y":-2.09},{"b":19,"x":307,"y":-2.06},{"b":19,"x":343,"y":-2.19},{"b":19,"x":357,"y":-2.2},{"b":19,"x":377,"y":-2.17},{"b":19,"x":403,"y":-2.1},{"b":19,"x":423,"y":-2.08},{"b":19,"x":443,"y":-2.17},{"b":19,"x":497,"y":-2.17},{"b":19,"x":530,"y":-2.15},{"b":19,"x":550,"y":-2.14},{"b":19,"x":570,"y":-2.09},{"b":19,"x":597,"y":-1.85},{"b":19,"x":620,"y":-1.85},{"b":19,"x":630,"y":-1.83},{"b":19,"x":648,"y":-1.77},{"b":19,"x":677,"y":-1.88},{"b":19,"x":690,"y":-1.84},{"b":19,"x":733,"y":-2.0},{"b":19,"x":742,"y":-1.97},{"b":19,"x":760,"y":-1.76},{"b":19,"x":779,"y":-1.63},{"b":19,"x":790,"y":-1.74},{"b":19,"x":818,"y":-2.02},{"b":19,"x":840,"y":-1.91},{"b":19,"x":853,"y":-1.86},{"b":19,"x":877,"y":-1.85},{"b":19,"x":905,"y":-1.76},{"b":19,"x":915,"y":-1.8},{"b":19,"x":920,"y":-1.78},{"b":19,"x":947,"y":-1.98},{"b":19,"x":970,"y":-2.14},{"b":19,"x":991,"y":-2.25},{"b":19,"x":1000,"y":-2.3},{"b":19,"x":1007,"y":-2.3},{"b":19,"x":1023,"y":-2.27},{"b":19,"x":1048,"y":-2.13},{"b":19,"x":1067,"y":-2.02},{"b":19,"x":1093,"y":-2.15},{"b":19,"x":1120,"y":-2.37},{"b":19,"x":1140,"y":-2.46},{"b":19,"x":1167,"y":-2.56},{"b":19,"x":1193,"y":-2.6},{"b":19,"x":1210,"y":-2.67},{"b":19,"x":1230,"y":-2.77},{"b":19,"x":1254,"y":-2.81},{"b":19,"x":1254.5,"y":-2.63},{"b":19,"x":1267,"y":-2.62},{"b":19,"x":1310,"y":-2.48},{"b":19,"x":1353,"y":-2.14},{"b":19,"x":1368,"y":-2.12},{"b":19,"x":1407,"y":-2.25},{"b":19,"x":1418,"y":-2.25},{"b":19,"x":1443,"y":-2.33},{"b":19,"x":1456,"y":-2.33},
{"b":20,"x":63,"y":-1.58},{"b":20,"x":70,"y":-1.62},{"b":20,"x":83,"y":-1.81},{"b":20,"x":90,"y":-1.81},{"b":20,"x":103,"y":-1.73},{"b":20,"x":130,"y":-1.53},{"b":20,"x":138,"y":-1.52},{"b":20,"x":147,"y":-1.56},{"b":20,"x":167,"y":-1.83},{"b":20,"x":175,"y":-1.9},{"b":20,"x":183,"y":-1.92},{"b":20,"x":205,"y":-2.14},{"b":20,"x":223,"y":-2.36},{"b":20,"x":240,"y":-2.47},{"b":20,"x":247,"y":-2.44},{"b":20,"x":270,"y":-2.22},{"b":20,"x":307,"y":-2.17},{"b":20,"x":327,"y":-2.25},{"b":20,"x":350,"y":-2.36},{"b":20,"x":360,"y":-2.37},{"b":20,"x":393,"y":-2.25},{"b":20,"x":422,"y":-2.21},{"b":20,"x":437,"y":-2.22},{"b":20,"x":463,"y":-2.37},{"b":20,"x":480,"y":-2.39},{"b":20,"x":503,"y":-2.32},{"b":20,"x":520,"y":-2.38},{"b":20,"x":530,"y":-2.37},{"b":20,"x":540,"y":-2.33},{"b":20,"x":570,"y":-2.21},{"b":20,"x":603,"y":-1.91},{"b":20,"x":640,"y":-1.57},{"b":20,"x":648,"y":-1.54},{"b":20,"x":667,"y":-1.56},{"b":20,"x":672,"y":-1.53},{"b":20,"x":703,"y":-1.18},{"b":20,"x":717,"y":-1.34},{"b":20,"x":733,"y":-1.46},{"b":20,"x":743,"y":-1.46},{"b":20,"x":762,"y":-1.37},{"b":20,"x":782,"y":-1.54},{"b":20,"x":803,"y":-1.33},{"b":20,"x":815,"y":-1.29},{"b":20,"x":825,"y":-1.21},{"b":20,"x":845,"y":-0.99},{"b":20,"x":853,"y":-1.07},{"b":20,"x":867,"y":-1.14},{"b":20,"x":892,"y":-1.52},{"b":20,"x":900,"y":-1.56},{"b":20,"x":915,"y":-1.65},{"b":20,"x":935,"y":-1.4},{"b":20,"x":965,"y":-1.27},{"b":20,"x":975,"y":-1.25},{"b":20,"x":991,"y":-1.38},{"b":20,"x":1000,"y":-1.33},{"b":20,"x":1005,"y":-1.29},{"b":20,"x":1013,"y":-1.31},{"b":20,"x":1029,"y":-1.21},{"b":20,"x":1050,"y":-1.25},{"b":20,"x":1090,"y":-1.31},{"b":20,"x":1110,"y":-1.31},{"b":20,"x":1127,"y":-1.42},{"b":20,"x":1150,"y":-1.79},{"b":20,"x":1173,"y":-2.0},{"b":20,"x":1210,"y":-2.11},{"b":20,"x":1230,"y":-2.08},{"b":20,"x":1254,"y":-2.07},{"b":20,"x":1254.5,"y":-2.04},{"b":20,"x":1267,"y":-2.03},{"b":20,"x":1290,"y":-1.81},{"b":20,"x":1315,"y":-1.65},{"b":20,"x":1327,"y":-1.65},{"b":20,"x":1352,"y":-1.76},{"b":20,"x":1367,"y":-1.67},{"b":20,"x":1399,"y":-1.29},{"b":20,"x":1413,"y":-1.37},{"b":20,"x":1437,"y":-1.46},{"b":20,"x":1456,"y":-1.46},
{"b":21,"x":63,"y":-1.87},{"b":21,"x":73,"y":-1.87},{"b":21,"x":83,"y":-1.84},{"b":21,"x":90,"y":-1.91},{"b":21,"x":100,"y":-2.04},{"b":21,"x":107,"y":-2.06},{"b":21,"x":140,"y":-2.0},{"b":21,"x":168,"y":-1.95},{"b":21,"x":175,"y":-1.99},{"b":21,"x":190,"y":-2.17},{"b":21,"x":207,"y":-2.31},{"b":21,"x":225,"y":-2.39},{"b":21,"x":235,"y":-2.51},{"b":21,"x":250,"y":-2.57},{"b":21,"x":265,"y":-2.63},{"b":21,"x":270,"y":-2.62},{"b":21,"x":307,"y":-2.61},{"b":21,"x":357,"y":-2.57},{"b":21,"x":375,"y":-2.63},{"b":21,"x":397,"y":-2.51},{"b":21,"x":413,"y":-2.47},{"b":21,"x":443,"y":-2.44},{"b":21,"x":473,"y":-2.42},{"b":21,"x":520,"y":-2.42},{"b":21,"x":530,"y":-2.49},{"b":21,"x":540,"y":-2.56},{"b":21,"x":553,"y":-2.61},{"b":21,"x":570,"y":-2.62},{"b":21,"x":587,"y":-2.53},{"b":21,"x":602,"y":-2.4},{"b":21,"x":627,"y":-2.33},{"b":21,"x":663,"y":-2.14},{"b":21,"x":677,"y":-1.97},{"b":21,"x":690,"y":-2.0},{"b":21,"x":717,"y":-2.04},{"b":21,"x":733,"y":-2.15},{"b":21,"x":747,"y":-2.17},{"b":21,"x":770,"y":-2.03},{"b":21,"x":788,"y":-1.74},{"b":21,"x":807,"y":-1.5},{"b":21,"x":817,"y":-1.41},{"b":21,"x":853,"y":-1.57},{"b":21,"x":890,"y":-1.56},{"b":21,"x":905,"y":-1.73},{"b":21,"x":920,"y":-1.72},{"b":21,"x":938,"y":-1.41},{"b":21,"x":967,"y":-1.25},{"b":21,"x":983,"y":-1.35},{"b":21,"x":991,"y":-1.54},{"b":21,"x":1000,"y":-1.46},{"b":21,"x":1012,"y":-1.37},{"b":21,"x":1020,"y":-1.4},{"b":21,"x":1043,"y":-1.69},{"b":21,"x":1063,"y":-1.44},{"b":21,"x":1070,"y":-1.4},{"b":21,"x":1087,"y":-1.39},{"b":21,"x":1105,"y":-1.5},{"b":21,"x":1138,"y":-1.91},{"b":21,"x":1160,"y":-2.08},{"b":21,"x":1190,"y":-2.27},{"b":21,"x":1203,"y":-2.39},{"b":21,"x":1213,"y":-2.41},{"b":21,"x":1254,"y":-2.46},{"b":21,"x":1254.5,"y":-2.61},{"b":21,"x":1290,"y":-2.23},{"b":21,"x":1307,"y":-2.2},{"b":21,"x":1323,"y":-2.17},{"b":21,"x":1353,"y":-1.99},{"b":21,"x":1385,"y":-1.99},{"b":21,"x":1418,"y":-2.21},{"b":21,"x":1456,"y":-2.15},
{"b":22,"x":63,"y":-1.88},{"b":22,"x":72,"y":-1.88},{"b":22,"x":87,"y":-2.04},{"b":22,"x":102,"y":-2.1},{"b":22,"x":117,"y":-2.23},{"b":22,"x":135,"y":-2.27},{"b":22,"x":168,"y":-2.21},{"b":22,"x":182,"y":-2.25},{"b":22,"x":207,"y":-2.48},{"b":22,"x":227,"y":-2.64},{"b":22,"x":240,"y":-2.6},{"b":22,"x":250,"y":-2.63},{"b":22,"x":267,"y":-2.65},{"b":22,"x":270,"y":-2.66},{"b":22,"x":313,"y":-2.65},{"b":22,"x":357,"y":-2.76},{"b":22,"x":375,"y":-2.68},{"b":22,"x":397,"y":-2.8},{"b":22,"x":423,"y":-2.81},{"b":22,"x":450,"y":-2.77},{"b":22,"x":480,"y":-2.54},{"b":22,"x":503,"y":-2.51},{"b":22,"x":530,"y":-2.54},{"b":22,"x":547,"y":-2.6},{"b":22,"x":572,"y":-2.66},{"b":22,"x":593,"y":-2.54},{"b":22,"x":625,"y":-2.37},{"b":22,"x":647,"y":-2.4},{"b":22,"x":680,"y":-2.28},{"b":22,"x":700,"y":-2.34},{"b":22,"x":723,"y":-2.39},{"b":22,"x":736,"y":-2.33},{"b":22,"x":753,"y":-2.32},{"b":22,"x":780,"y":-2.25},{"b":22,"x":818,"y":-2.06},{"b":22,"x":839,"y":-2.15},{"b":22,"x":853,"y":-1.93},{"b":22,"x":860,"y":-1.87},{"b":22,"x":877,"y":-1.91},{"b":22,"x":902,"y":-2.02},{"b":22,"x":915,"y":-1.92},{"b":22,"x":943,"y":-2.15},{"b":22,"x":970,"y":-2.21},{"b":22,"x":988,"y":-2.22},{"b":22,"x":1000,"y":-2.13},{"b":22,"x":1010,"y":-2.03},{"b":22,"x":1025,"y":-1.92},{"b":22,"x":1044,"y":-1.75},{"b":22,"x":1063,"y":-1.91},{"b":22,"x":1073,"y":-1.93},{"b":22,"x":1093,"y":-2.09},{"b":22,"x":1103,"y":-2.11},{"b":22,"x":1143,"y":-2.09},{"b":22,"x":1160,"y":-2.11},{"b":22,"x":1197,"y":-2.2},{"b":22,"x":1220,"y":-2.26},{"b":22,"x":1254,"y":-2.2},{"b":22,"x":1254.5,"y":-2.15},{"b":22,"x":1265,"y":-2.1},{"b":22,"x":1293,"y":-2.19},{"b":22,"x":1323,"y":-2.03},{"b":22,"x":1353,"y":-1.83},{"b":22,"x":1367,"y":-1.8},{"b":22,"x":1403,"y":-1.57},{"b":22,"x":1418,"y":-1.55},{"b":22,"x":1433,"y":-1.78},{"b":22,"x":1447,"y":-1.98},{"b":22,"x":1456,"y":-2.0},
{"b":23,"x":63,"y":-2.44},{"b":23,"x":70,"y":-2.48},{"b":23,"x":83,"y":-2.61},{"b":23,"x":93,"y":-2.67},{"b":23,"x":122,"y":-2.8},{"b":23,"x":130,"y":-2.84},{"b":23,"x":165,"y":-2.9},{"b":23,"x":197,"y":-2.85},{"b":23,"x":220,"y":-2.73},{"b":23,"x":227,"y":-2.69},{"b":23,"x":232,"y":-2.69},{"b":23,"x":246,"y":-2.86},{"b":23,"x":252,"y":-2.84},{"b":23,"x":270,"y":-2.73},{"b":23,"x":298,"y":-2.7},{"b":23,"x":327,"y":-2.75},{"b":23,"x":350,"y":-2.77},{"b":23,"x":365,"y":-2.8},{"b":23,"x":373,"y":-2.83},{"b":23,"x":393,"y":-2.85},{"b":23,"x":420,"y":-2.99},{"b":23,"x":433,"y":-2.99},{"b":23,"x":457,"y":-2.88},{"b":23,"x":507,"y":-2.9},{"b":23,"x":530,"y":-2.92},{"b":23,"x":535,"y":-2.92},{"b":23,"x":547,"y":-2.88},{"b":23,"x":565,"y":-2.73},{"b":23,"x":570,"y":-2.69},{"b":23,"x":587,"y":-2.7},{"b":23,"x":627,"y":-2.53},{"b":23,"x":648,"y":-2.46},{"b":23,"x":697,"y":-2.59},{"b":23,"x":713,"y":-2.55},{"b":23,"x":728,"y":-2.43},{"b":23,"x":740,"y":-2.43},{"b":23,"x":757,"y":-2.62},{"b":23,"x":830,"y":-2.43},{"b":23,"x":845,"y":-2.21},{"b":23,"x":880,"y":-2.23},{"b":23,"x":905,"y":-2.1},{"b":23,"x":927,"y":-2.28},{"b":23,"x":950,"y":-2.33},{"b":23,"x":991,"y":-2.36},{"b":23,"x":1000,"y":-2.39},{"b":23,"x":1003,"y":-2.39},{"b":23,"x":1015,"y":-2.48},{"b":23,"x":1023,"y":-2.43},{"b":23,"x":1040,"y":-2.25},{"b":23,"x":1068,"y":-2.16},{"b":23,"x":1083,"y":-2.22},{"b":23,"x":1113,"y":-2.54},{"b":23,"x":1137,"y":-2.69},{"b":23,"x":1163,"y":-2.8},{"b":23,"x":1183,"y":-2.87},{"b":23,"x":1210,"y":-2.89},{"b":23,"x":1254,"y":-2.99},{"b":23,"x":1254.5,"y":-2.72},{"b":23,"x":1280,"y":-2.67},{"b":23,"x":1313,"y":-2.51},{"b":23,"x":1347,"y":-2.53},{"b":23,"x":1380,"y":-2.59},{"b":23,"x":1395,"y":-2.56},{"b":23,"x":1415,"y":-2.37},{"b":23,"x":1420,"y":-2.36},{"b":23,"x":1456,"y":-2.42},
{"b":24,"x":63,"y":-2.23},{"b":24,"x":83,"y":-2.19},{"b":24,"x":93,"y":-2.25},{"b":24,"x":108,"y":-2.51},{"b":24,"x":122,"y":-2.72},{"b":24,"x":137,"y":-2.91},{"b":24,"x":147,"y":-3.01},{"b":24,"x":163,"y":-3.09},{"b":24,"x":180,"y":-3.17},{"b":24,"x":207,"y":-3.2},{"b":24,"x":227,"y":-3.19},{"b":24,"x":250,"y":-3.16},{"b":24,"x":258,"y":-3.24},{"b":24,"x":263,"y":-3.26},{"b":24,"x":300,"y":-3.26},{"b":24,"x":317,"y":-3.24},{"b":24,"x":337,"y":-3.19},{"b":24,"x":358,"y":-3.23},{"b":24,"x":387,"y":-3.2},{"b":24,"x":412,"y":-3.14},{"b":24,"x":463,"y":-3.17},{"b":24,"x":500,"y":-3.27},{"b":24,"x":530,"y":-3.23},{"b":24,"x":537,"y":-3.22},{"b":24,"x":553,"y":-3.26},{"b":24,"x":570,"y":-3.27},{"b":24,"x":595,"y":-3.25},{"b":24,"x":637,"y":-3.13},{"b":24,"x":653,"y":-3.12},{"b":24,"x":693,"y":-3.17},{"b":24,"x":737,"y":-3.17},{"b":24,"x":767,"y":-3.13},{"b":24,"x":777,"y":-3.19},{"b":24,"x":787,"y":-3.26},{"b":24,"x":797,"y":-3.21},{"b":24,"x":807,"y":-3.05},{"b":24,"x":820,"y":-2.73},{"b":24,"x":830,"y":-2.46},{"b":24,"x":840,"y":-2.44},{"b":24,"x":865,"y":-2.44},{"b":24,"x":883,"y":-2.37},{"b":24,"x":897,"y":-2.28},{"b":24,"x":915,"y":-2.27},{"b":24,"x":927,"y":-2.29},{"b":24,"x":943,"y":-2.46},{"b":24,"x":970,"y":-2.69},{"b":24,"x":991,"y":-2.75},{"b":24,"x":1000,"y":-2.73},{"b":24,"x":1003,"y":-2.72},{"b":24,"x":1015,"y":-2.62},{"b":24,"x":1040,"y":-2.8},{"b":24,"x":1045,"y":-2.84},{"b":24,"x":1062,"y":-2.9},{"b":24,"x":1090,"y":-2.91},{"b":24,"x":1120,"y":-2.96},{"b":24,"x":1173,"y":-2.9},{"b":24,"x":1200,"y":-3.02},{"b":24,"x":1223,"y":-3.09},{"b":24,"x":1254,"y":-3.11},{"b":24,"x":1254.5,"y":-3.07},{"b":24,"x":1277,"y":-3.03},{"b":24,"x":1307,"y":-3.01},{"b":24,"x":1323,"y":-2.92},{"b":24,"x":1343,"y":-2.82},{"b":24,"x":1383,"y":-2.78},{"b":24,"x":1430,"y":-2.73},{"b":24,"x":1456,"y":-2.66},
{"b":25,"x":63,"y":-2.77},{"b":25,"x":80,"y":-2.79},{"b":25,"x":93,"y":-2.88},{"b":25,"x":108,"y":-3.05},{"b":25,"x":133,"y":-3.23},{"b":25,"x":163,"y":-3.31},{"b":25,"x":183,"y":-3.31},{"b":25,"x":257,"y":-3.28},{"b":25,"x":262,"y":-3.31},{"b":25,"x":269,"y":-3.42},{"b":25,"x":307,"y":-3.4},{"b":25,"x":323,"y":-3.37},{"b":25,"x":358,"y":-3.26},{"b":25,"x":383,"y":-3.35},{"b":25,"x":427,"y":-3.34},{"b":25,"x":450,"y":-3.34},{"b":25,"x":497,"y":-3.3},{"b":25,"x":530,"y":-3.3},{"b":25,"x":543,"y":-3.31},{"b":25,"x":570,"y":-3.42},{"b":25,"x":583,"y":-3.49},{"b":25,"x":603,"y":-3.5},{"b":25,"x":653,"y":-3.5},{"b":25,"x":690,"y":-3.55},{"b":25,"x":720,"y":-3.46},{"b":25,"x":770,"y":-3.46},{"b":25,"x":788,"y":-3.41},{"b":25,"x":807,"y":-3.42},{"b":25,"x":860,"y":-3.37},{"b":25,"x":913,"y":-3.32},{"b":25,"x":930,"y":-3.33},{"b":25,"x":991,"y":-3.49},{"b":25,"x":1000,"y":-3.47},{"b":25,"x":1043,"y":-3.4},{"b":25,"x":1067,"y":-3.45},{"b":25,"x":1087,"y":-3.43},{"b":25,"x":1107,"y":-3.51},{"b":25,"x":1140,"y":-3.44},{"b":25,"x":1167,"y":-3.48},{"b":25,"x":1203,"y":-3.44},{"b":25,"x":1223,"y":-3.53},{"b":25,"x":1254,"y":-3.65},{"b":25,"x":1254.5,"y":-3.45},{"b":25,"x":1273,"y":-3.52},{"b":25,"x":1320,"y":-3.54},{"b":25,"x":1373,"y":-3.61},{"b":25,"x":1387,"y":-3.59},{"b":25,"x":1400,"y":-3.52},{"b":25,"x":1420,"y":-3.49},{"b":25,"x":1440,"y":-3.51},{"b":25,"x":1456,"y":-3.46},
{"b":26,"x":63,"y":-3.57},{"b":26,"x":117,"y":-3.55},{"b":26,"x":147,"y":-3.47},{"b":26,"x":183,"y":-3.31},{"b":26,"x":240,"y":-3.0},{"b":26,"x":247,"y":-3.01},{"b":26,"x":255,"y":-3.11},{"b":26,"x":270,"y":-3.08},{"b":26,"x":310,"y":-3.09},{"b":26,"x":358,"y":-3.07},{"b":26,"x":380,"y":-3.07},{"b":26,"x":402,"y":-3.12},{"b":26,"x":438,"y":-3.07},{"b":26,"x":467,"y":-3.13},{"b":26,"x":530,"y":-3.09},{"b":26,"x":538,"y":-3.05},{"b":26,"x":565,"y":-3.09},{"b":26,"x":587,"y":-3.05},{"b":26,"x":627,"y":-2.99},{"b":26,"x":653,"y":-2.89},{"b":26,"x":690,"y":-2.8},{"b":26,"x":710,"y":-2.73},{"b":26,"x":720,"y":-2.67},{"b":26,"x":752,"y":-2.66},{"b":26,"x":763,"y":-2.8},{"b":26,"x":770,"y":-2.94},{"b":26,"x":780,"y":-2.99},{"b":26,"x":813,"y":-2.85},{"b":26,"x":848,"y":-2.77},{"b":26,"x":887,"y":-2.78},{"b":26,"x":913,"y":-2.83},{"b":26,"x":991,"y":-3.06},{"b":26,"x":1000,"y":-3.06},{"b":26,"x":1023,"y":-3.11},{"b":26,"x":1057,"y":-3.15},{"b":26,"x":1130,"y":-3.18},{"b":26,"x":1163,"y":-3.18},{"b":26,"x":1188,"y":-3.21},{"b":26,"x":1254,"y":-3.14},{"b":26,"x":1254.5,"y":-3.26},{"b":26,"x":1273,"y":-3.26},{"b":26,"x":1313,"y":-3.15},{"b":26,"x":1357,"y":-3.16},{"b":26,"x":1397,"y":-3.07},{"b":26,"x":1420,"y":-3.06},{"b":26,"x":1456,"y":-3.17},
{"b":27,"x":63,"y":-3.27},{"b":27,"x":75,"y":-3.29},{"b":27,"x":92,"y":-3.38},{"b":27,"x":110,"y":-3.54},{"b":27,"x":130,"y":-3.68},{"b":27,"x":153,"y":-3.77},{"b":27,"x":175,"y":-3.83},{"b":27,"x":197,"y":-3.77},{"b":27,"x":227,"y":-3.63},{"b":27,"x":243,"y":-3.59},{"b":27,"x":257,"y":-3.59},{"b":27,"x":270,"y":-3.66},{"b":27,"x":307,"y":-3.69},{"b":27,"x":327,"y":-3.69},{"b":27,"x":350,"y":-3.65},{"b":27,"x":367,"y":-3.65},{"b":27,"x":410,"y":-3.75},{"b":27,"x":423,"y":-3.76},{"b":27,"x":453,"y":-3.7},{"b":27,"x":497,"y":-3.67},{"b":27,"x":530,"y":-3.68},{"b":27,"x":537,"y":-3.68},{"b":27,"x":563,"y":-3.65},{"b":27,"x":572,"y":-3.67},{"b":27,"x":585,"y":-3.78},{"b":27,"x":627,"y":-3.72},{"b":27,"x":677,"y":-3.73},{"b":27,"x":693,"y":-3.71},{"b":27,"x":710,"y":-3.73},{"b":27,"x":727,"y":-3.63},{"b":27,"x":737,"y":-3.61},{"b":27,"x":787,"y":-3.56},{"b":27,"x":813,"y":-3.6},{"b":27,"x":860,"y":-3.57},{"b":27,"x":950,"y":-3.62},{"b":27,"x":991,"y":-3.71},{"b":27,"x":1000,"y":-3.69},{"b":27,"x":1020,"y":-3.65},{"b":27,"x":1067,"y":-3.49},{"b":27,"x":1103,"y":-3.55},{"b":27,"x":1130,"y":-3.68},{"b":27,"x":1167,"y":-3.59},{"b":27,"x":1190,"y":-3.62},{"b":27,"x":1233,"y":-3.76},{"b":27,"x":1254,"y":-3.76},{"b":27,"x":1254.5,"y":-3.69},{"b":27,"x":1310,"y":-3.68},{"b":27,"x":1337,"y":-3.73},{"b":27,"x":1365,"y":-3.81},{"b":27,"x":1387,"y":-3.71},{"b":27,"x":1420,"y":-3.71},{"b":27,"x":1437,"y":-3.77},{"b":27,"x":1456,"y":-3.9},
{"b":28,"x":63,"y":-3.37},{"b":28,"x":113,"y":-3.42},{"b":28,"x":137,"y":-3.52},{"b":28,"x":160,"y":-3.63},{"b":28,"x":177,"y":-3.63},{"b":28,"x":210,"y":-3.57},{"b":28,"x":233,"y":-3.52},{"b":28,"x":263,"y":-3.43},{"b":28,"x":270,"y":-3.42},{"b":28,"x":313,"y":-3.44},{"b":28,"x":352,"y":-3.54},{"b":28,"x":375,"y":-3.52},{"b":28,"x":397,"y":-3.57},{"b":28,"x":413,"y":-3.64},{"b":28,"x":445,"y":-3.64},{"b":28,"x":470,"y":-3.55},{"b":28,"x":493,"y":-3.49},{"b":28,"x":510,"y":-3.48},{"b":28,"x":530,"y":-3.45},{"b":28,"x":570,"y":-3.43},{"b":28,"x":613,"y":-3.39},{"b":28,"x":687,"y":-3.41},{"b":28,"x":737,"y":-3.43},{"b":28,"x":750,"y":-3.41},{"b":28,"x":787,"y":-3.27},{"b":28,"x":813,"y":-3.24},{"b":28,"x":853,"y":-3.27},{"b":28,"x":913,"y":-3.13},{"b":28,"x":960,"y":-3.11},{"b":28,"x":991,"y":-3.22},{"b":28,"x":1000,"y":-3.19},{"b":28,"x":1013,"y":-3.17},{"b":28,"x":1030,"y":-3.19},{"b":28,"x":1057,"y":-3.27},{"b":28,"x":1087,"y":-3.29},{"b":28,"x":1117,"y":-3.26},{"b":28,"x":1147,"y":-3.35},{"b":28,"x":1180,"y":-3.28},{"b":28,"x":1210,"y":-3.34},{"b":28,"x":1254,"y":-3.33},{"b":28,"x":1254.5,"y":-3.4},{"b":28,"x":1277,"y":-3.4},{"b":28,"x":1313,"y":-3.42},{"b":28,"x":1340,"y":-3.37},{"b":28,"x":1380,"y":-3.3},{"b":28,"x":1418,"y":-3.21},{"b":28,"x":1456,"y":-3.43},
{"b":29,"x":63,"y":-3.8},{"b":29,"x":83,"y":-3.83},{"b":29,"x":107,"y":-3.92},{"b":29,"x":137,"y":-4.11},{"b":29,"x":150,"y":-4.14},{"b":29,"x":210,"y":-4.13},{"b":29,"x":230,"y":-4.07},{"b":29,"x":250,"y":-3.96},{"b":29,"x":270,"y":-3.89},{"b":29,"x":307,"y":-3.9},{"b":29,"x":327,"y":-3.88},{"b":29,"x":358,"y":-3.96},{"b":29,"x":383,"y":-3.94},{"b":29,"x":427,"y":-3.88},{"b":29,"x":463,"y":-3.82},{"b":29,"x":483,"y":-3.84},{"b":29,"x":530,"y":-3.86},{"b":29,"x":550,"y":-3.89},{"b":29,"x":578,"y":-3.89},{"b":29,"x":587,"y":-3.97},{"b":29,"x":602,"y":-4.13},{"b":29,"x":610,"y":-4.17},{"b":29,"x":637,"y":-4.17},{"b":29,"x":663,"y":-4.09},{"b":29,"x":690,"y":-3.96},{"b":29,"x":700,"y":-3.94},{"b":29,"x":720,"y":-3.93},{"b":29,"x":736,"y":-3.91},{"b":29,"x":777,"y":-3.89},{"b":29,"x":790,"y":-3.92},{"b":29,"x":810,"y":-4.06},{"b":29,"x":827,"y":-4.12},{"b":29,"x":860,"y":-4.19},{"b":29,"x":897,"y":-4.4},{"b":29,"x":943,"y":-4.67},{"b":29,"x":963,"y":-4.58},{"b":29,"x":991,"y":-4.61},{"b":29,"x":1040,"y":-4.59},{"b":29,"x":1117,"y":-4.68},{"b":29,"x":1145,"y":-4.73},{"b":29,"x":1180,"y":-5.0},{"b":29,"x":1197,"y":-5.15},{"b":29,"x":1254,"y":-5.15},{"b":29,"x":1280,"y":-5.15},{"b":29,"x":1303,"y":-5.0},{"b":29,"x":1320,"y":-4.84},{"b":29,"x":1348,"y":-4.79},{"b":29,"x":1387,"y":-4.63},{"b":29,"x":1435,"y":-4.61},{"b":29,"x":1443,"y":-4.55},{"b":29,"x":1456,"y":-4.53},
{"b":30,"x":63,"y":-4.19},{"b":30,"x":107,"y":-4.15},{"b":30,"x":133,"y":-4.15},{"b":30,"x":153,"y":-4.26},{"b":30,"x":183,"y":-4.31},{"b":30,"x":217,"y":-4.18},{"b":30,"x":233,"y":-4.18},{"b":30,"x":260,"y":-4.19},{"b":30,"x":310,"y":-4.18},{"b":30,"x":323,"y":-4.2},{"b":30,"x":352,"y":-4.09},{"b":30,"x":425,"y":-4.07},{"b":30,"x":467,"y":-4.23},{"b":30,"x":477,"y":-4.25},{"b":30,"x":503,"y":-4.22},{"b":30,"x":530,"y":-4.21},{"b":30,"x":570,"y":-4.19},{"b":30,"x":597,"y":-4.22},{"b":30,"x":617,"y":-4.34},{"b":30,"x":635,"y":-4.37},{"b":30,"x":653,"y":-4.34},{"b":30,"x":680,"y":-4.09},{"b":30,"x":710,"y":-3.77},{"b":30,"x":733,"y":-3.9},{"b":30,"x":787,"y":-3.82},{"b":30,"x":860,"y":-3.8},{"b":30,"x":903,"y":-3.86},{"b":30,"x":923,"y":-3.86},{"b":30,"x":967,"y":-3.93},{"b":30,"x":991,"y":-3.83},{"b":30,"x":1013,"y":-3.91},{"b":30,"x":1067,"y":-3.93},{"b":30,"x":1115,"y":-3.9},{"b":30,"x":1157,"y":-4.05},{"b":30,"x":1190,"y":-4.03},{"b":30,"x":1223,"y":-3.92},{"b":30,"x":1254,"y":-3.89},{"b":30,"x":1263,"y":-3.95},{"b":30,"x":1283,"y":-4.1},{"b":30,"x":1310,"y":-4.11},{"b":30,"x":1337,"y":-4.06},{"b":30,"x":1367,"y":-3.91},{"b":30,"x":1387,"y":-3.91},{"b":30,"x":1417,"y":-3.83},{"b":30,"x":1433,"y":-3.75},{"b":30,"x":1447,"y":-3.63},{"b":30,"x":1456,"y":-3.61},
{"b":31,"x":63,"y":-4.19},{"b":31,"x":103,"y":-4.24},{"b":31,"x":137,"y":-4.29},{"b":31,"x":170,"y":-4.36},{"b":31,"x":217,"y":-4.38},{"b":31,"x":270,"y":-4.36},{"b":31,"x":322,"y":-4.27},{"b":31,"x":355,"y":-4.38},{"b":31,"x":430,"y":-4.37},{"b":31,"x":470,"y":-4.27},{"b":31,"x":497,"y":-4.3},{"b":31,"x":530,"y":-4.32},{"b":31,"x":557,"y":-4.35},{"b":31,"x":600,"y":-4.36},{"b":31,"x":637,"y":-4.49},{"b":31,"x":653,"y":-4.44},{"b":31,"x":693,"y":-4.33},{"b":31,"x":736,"y":-4.27},{"b":31,"x":747,"y":-4.26},{"b":31,"x":787,"y":-4.11},{"b":31,"x":807,"y":-4.11},{"b":31,"x":833,"y":-4.22},{"b":31,"x":860,"y":-4.19},{"b":31,"x":903,"y":-3.9},{"b":31,"x":933,"y":-3.95},{"b":31,"x":967,"y":-3.99},{"b":31,"x":991,"y":-4.06},{"b":31,"x":1018,"y":-3.99},{"b":31,"x":1057,"y":-4.01},{"b":31,"x":1103,"y":-4.0},{"b":31,"x":1133,"y":-4.14},{"b":31,"x":1163,"y":-4.15},{"b":31,"x":1213,"y":-4.14},{"b":31,"x":1254,"y":-4.07},{"b":31,"x":1254.5,"y":-4.18},{"b":31,"x":1277,"y":-4.18},{"b":31,"x":1310,"y":-4.3},{"b":31,"x":1330,"y":-4.3},{"b":31,"x":1350,"y":-4.24},{"b":31,"x":1383,"y":-4.01},{"b":31,"x":1407,"y":-4.05},{"b":31,"x":1430,"y":-4.06},{"b":31,"x":1456,"y":-3.9},
{"b":32,"x":63,"y":-4.41},{"b":32,"x":90,"y":-4.44},{"b":32,"x":130,"y":-4.55},{"b":32,"x":160,"y":-4.59},{"b":32,"x":197,"y":-4.73},{"b":32,"x":270,"y":-4.62},{"b":32,"x":337,"y":-4.7},{"b":32,"x":358,"y":-4.76},{"b":32,"x":427,"y":-4.73},{"b":32,"x":463,"y":-4.67},{"b":32,"x":530,"y":-4.65},{"b":32,"x":570,"y":-4.61},{"b":32,"x":600,"y":-4.6},{"b":32,"x":623,"y":-4.64},{"b":32,"x":653,"y":-4.53},{"b":32,"x":690,"y":-4.45},{"b":32,"x":736,"y":-4.39},{"b":32,"x":765,"y":-4.45},{"b":32,"x":820,"y":-4.36},{"b":32,"x":860,"y":-4.41},{"b":32,"x":953,"y":-4.41},{"b":32,"x":968,"y":-4.33},{"b":32,"x":991,"y":-4.18},{"b":32,"x":1023,"y":-4.3},{"b":32,"x":1067,"y":-4.24},{"b":32,"x":1117,"y":-4.29},{"b":32,"x":1153,"y":-4.47},{"b":32,"x":1210,"y":-4.32},{"b":32,"x":1254,"y":-4.37},{"b":32,"x":1254.5,"y":-4.3},{"b":32,"x":1280,"y":-4.29},{"b":32,"x":1327,"y":-4.45},{"b":32,"x":1367,"y":-4.38},{"b":32,"x":1390,"y":-4.24},{"b":32,"x":1427,"y":-4.17},{"b":32,"x":1456,"y":-4.28},
{"b":33,"x":63,"y":-4.6},{"b":33,"x":87,"y":-4.6},{"b":33,"x":120,"y":-4.66},{"b":33,"x":140,"y":-4.75},{"b":33,"x":177,"y":-5.0},{"b":33,"x":254,"y":-5.4},{"b":33,"x":332,"y":-5.0},{"b":33,"x":357,"y":-4.82},{"b":33,"x":422,"y":-4.8},{"b":33,"x":433,"y":-4.84},{"b":33,"x":453,"y":-5.0},{"b":33,"x":555,"y":-5.4},{"b":33,"x":657,"y":-5.0},{"b":33,"x":680,"y":-4.74},{"b":33,"x":697,"y":-4.67},{"b":33,"x":733,"y":-4.53},{"b":33,"x":760,"y":-4.52},{"b":33,"x":810,"y":-4.59},{"b":33,"x":860,"y":-4.6},{"b":33,"x":920,"y":-4.54},{"b":33,"x":957,"y":-4.54},{"b":33,"x":970,"y":-4.51},{"b":33,"x":1000,"y":-4.51},{"b":33,"x":1067,"y":-4.49},{"b":33,"x":1117,"y":-4.51},{"b":33,"x":1190,"y":-4.64},{"b":33,"x":1254,"y":-4.73},{"b":33,"x":1254.5,"y":-4.66},{"b":33,"x":1277,"y":-4.66},{"b":33,"x":1320,"y":-4.68},{"b":33,"x":1343,"y":-4.53},{"b":33,"x":1370,"y":-4.44},{"b":33,"x":1390,"y":-4.45},{"b":33,"x":1412,"y":-4.51},{"b":33,"x":1433,"y":-4.52},{"b":33,"x":1456,"y":-4.4},
{"b":34,"x":63,"y":-4.67},{"b":34,"x":93,"y":-4.7},{"b":34,"x":130,"y":-4.82},{"b":34,"x":163,"y":-5.0},{"b":34,"x":400,"y":-5.5},{"b":34,"x":690,"y":-5.0},{"b":34,"x":713,"y":-4.7},{"b":34,"x":723,"y":-4.64},{"b":34,"x":743,"y":-4.63},{"b":34,"x":820,"y":-4.62},{"b":34,"x":860,"y":-4.68},{"b":34,"x":900,"y":-4.66},{"b":34,"x":933,"y":-4.73},{"b":34,"x":947,"y":-4.72},{"b":34,"x":987,"y":-4.9},{"b":34,"x":991,"y":-4.87},{"b":34,"x":997,"y":-4.89},{"b":34,"x":1000,"y":-4.89},{"b":34,"x":1030,"y":-4.81},{"b":34,"x":1113,"y":-4.73},{"b":34,"x":1137,"y":-4.81},{"b":34,"x":1157,"y":-5.0},{"b":34,"x":1181,"y":-5.3},{"b":34,"x":1205,"y":-5.0},{"b":34,"x":1254,"y":-4.8},{"b":34,"x":1254.5,"y":-5.3},{"b":34,"x":1310,"y":-5.4},{"b":34,"x":1352,"y":-5.0},{"b":34,"x":1367,"y":-4.91},{"b":34,"x":1418,"y":-4.86},{"b":34,"x":1435,"y":-4.64},{"b":34,"x":1456,"y":-4.63},
{"b":35,"x":915,"y":-5.2},{"b":35,"x":930,"y":-5.0},{"b":35,"x":947,"y":-4.9},{"b":35,"x":970,"y":-5.0},{"b":35,"x":985,"y":-5.2},
{"b":36,"x":785,"y":2.04},{"b":36,"x":803,"y":1.82},{"b":36,"x":820,"y":1.78},{"b":36,"x":840,"y":1.58},{"b":36,"x":860,"y":1.8},{"b":36,"x":878,"y":1.72},{"b":36,"x":905,"y":1.73},{"b":36,"x":918,"y":1.86},{"b":36,"x":950,"y":1.87},{"b":36,"x":968,"y":2.04},
{"b":37,"x":938,"y":2.04},{"b":37,"x":947,"y":1.91},{"b":37,"x":953,"y":1.91},{"b":37,"x":967,"y":2.04},
{"b":38,"x":813,"y":2.04},{"b":38,"x":822,"y":1.93},{"b":38,"x":835,"y":1.94},{"b":38,"x":860,"y":1.86},{"b":38,"x":870,"y":2.04},
{"b":39,"x":813,"y":2.03},{"b":39,"x":832,"y":1.98},{"b":39,"x":845,"y":2.03},
{"b":40,"x":850,"y":2.04},{"b":40,"x":860,"y":1.87},{"b":40,"x":865,"y":1.84},{"b":40,"x":885,"y":1.97},{"b":40,"x":900,"y":1.8},{"b":40,"x":912,"y":1.83},{"b":40,"x":925,"y":2.04},
{"b":41,"x":1012,"y":2.04},{"b":41,"x":1020,"y":1.91},{"b":41,"x":1032,"y":1.75},{"b":41,"x":1040,"y":1.72},{"b":41,"x":1058,"y":1.84},{"b":41,"x":1070,"y":1.82},{"b":41,"x":1088,"y":1.66},{"b":41,"x":1103,"y":1.72},{"b":41,"x":1118,"y":1.83},{"b":41,"x":1127,"y":1.85},{"b":41,"x":1138,"y":1.94},{"b":41,"x":1153,"y":1.96},{"b":41,"x":1170,"y":1.91},{"b":41,"x":1183,"y":1.85},{"b":41,"x":1198,"y":2.04},
{"b":42,"x":1027,"y":2.01},{"b":42,"x":1055,"y":1.92},{"b":42,"x":1067,"y":1.97},{"b":42,"x":1087,"y":1.98},{"b":42,"x":1112,"y":2.01},
{"b":43,"x":1067,"y":1.97},{"b":43,"x":1100,"y":1.98},{"b":43,"x":1118,"y":1.96},{"b":43,"x":1127,"y":2.01},
{"b":44,"x":1317,"y":2.04},{"b":44,"x":1347,"y":1.88},{"b":44,"x":1375,"y":1.72},{"b":44,"x":1392,"y":1.72},{"b":44,"x":1419,"y":1.69},{"b":44,"x":1440,"y":1.8},{"b":44,"x":1456,"y":1.85},
{"b":45,"x":1335,"y":2.04},{"b":45,"x":1357,"y":1.88},{"b":45,"x":1367,"y":1.85},{"b":45,"x":1382,"y":1.89},{"b":45,"x":1398,"y":2.03}
]},"layer":[
{"data":{"name":"bands"},"mark":{"type":"line","interpolate":"monotone","clip":true,"color":"#000","strokeWidth":1.5},"encoding":{"x":{"field":"x","type":"quantitative","scale":{"domain":[63,1456],"nice":false,"zero":false},"axis":{"orient":"bottom","values":[270.5,307,358.5,421,505,570.5,736,860,991,1068.5,1254,1419],"grid":true,"gridColor":"#999","gridDash":[2,3],"gridWidth":0.9,"labels":false,"title":null,"ticks":false,"domain":false}},"y":{"field":"y","type":"quantitative","scale":{"domain":[-5,2],"nice":false,"zero":false},"axis":{"orient":"left","values":[-5,-4,-3,-2,-1,0,1,2],"grid":false,"title":null,"ticks":false,"tickSize":0,"labelPadding":17,"labelExpr":"''+datum.value","domain":false}},"detail":{"field":"b","type":"nominal"}}},
{"data":{"values":[{"x":63,"y":0},{"x":1456,"y":0}]},"mark":{"type":"line","clip":true,"color":"#56B4E9","strokeWidth":1.7},"encoding":{"x":{"field":"x","type":"quantitative","scale":{"domain":[63,1456],"nice":false,"zero":false},"axis":null},"y":{"field":"y","type":"quantitative","scale":{"domain":[-5,2],"nice":false,"zero":false},"axis":null}}},
{"data":{"values":[{"k":270.5,"a":-5,"c":-4.927},{"k":307,"a":-5,"c":-4.927},{"k":358.5,"a":-5,"c":-4.927},{"k":421,"a":-5,"c":-4.927},{"k":505,"a":-5,"c":-4.927},{"k":570.5,"a":-5,"c":-4.927},{"k":736,"a":-5,"c":-4.927},{"k":860,"a":-5,"c":-4.927},{"k":991,"a":-5,"c":-4.927},{"k":1068.5,"a":-5,"c":-4.927},{"k":1254,"a":-5,"c":-4.927},{"k":1419,"a":-5,"c":-4.927},{"k":270.5,"a":2,"c":1.927},{"k":307,"a":2,"c":1.927},{"k":358.5,"a":2,"c":1.927},{"k":421,"a":2,"c":1.927},{"k":505,"a":2,"c":1.927},{"k":570.5,"a":2,"c":1.927},{"k":736,"a":2,"c":1.927},{"k":860,"a":2,"c":1.927},{"k":991,"a":2,"c":1.927},{"k":1068.5,"a":2,"c":1.927},{"k":1254,"a":2,"c":1.927},{"k":1419,"a":2,"c":1.927}]},"mark":{"type":"rule","color":"#000","strokeWidth":1.4},"encoding":{"x":{"field":"k","type":"quantitative","scale":{"domain":[63,1456],"nice":false,"zero":false},"axis":null},"y":{"field":"a","type":"quantitative","scale":{"domain":[-5,2],"nice":false,"zero":false},"axis":null},"y2":{"field":"c"}}},
{"data":{"values":[{"e":-5,"p":63,"q":73},{"e":-4,"p":63,"q":73},{"e":-3,"p":63,"q":73},{"e":-2,"p":63,"q":73},{"e":-1,"p":63,"q":73},{"e":0,"p":63,"q":73},{"e":1,"p":63,"q":73},{"e":2,"p":63,"q":73},{"e":-5,"p":1446,"q":1456},{"e":-4,"p":1446,"q":1456},{"e":-3,"p":1446,"q":1456},{"e":-2,"p":1446,"q":1456},{"e":-1,"p":1446,"q":1456},{"e":0,"p":1446,"q":1456},{"e":1,"p":1446,"q":1456},{"e":2,"p":1446,"q":1456}]},"mark":{"type":"rule","color":"#000","strokeWidth":1.4},"encoding":{"x":{"field":"p","type":"quantitative","scale":{"domain":[63,1456],"nice":false,"zero":false},"axis":null},"x2":{"field":"q"},"y":{"field":"e","type":"quantitative","scale":{"domain":[-5,2],"nice":false,"zero":false},"axis":null}}},
{"data":{"values":[{"l":"X","k":267},{"l":"L","k":306},{"l":"T","k":356},{"l":"W","k":418},{"l":"R","k":504},{"l":"X","k":562},{"l":"Z","k":734},{"l":"Y","k":989},{"l":"S","k":1067},{"l":"W","k":1238},{"l":"L","k":1263},{"l":"Y","k":1404},{"l":"Y","k":1428},{"l":"Z","k":1455}]},"mark":{"type":"text","font":"Liberation Sans","fontSize":22,"dy":36,"baseline":"alphabetic","align":"center","color":"#111","clip":false},"encoding":{"x":{"field":"k","type":"quantitative","scale":{"domain":[63,1456],"nice":false,"zero":false},"axis":null},"y":{"datum":-5,"type":"quantitative","scale":{"domain":[-5,2],"nice":false,"zero":false},"axis":null},"text":{"field":"l"}}},
{"data":{"values":[{"l":"1","k":578},{"l":"1","k":1278},{"l":"1","k":1443}]},"mark":{"type":"text","font":"Liberation Sans","fontSize":18,"dy":41,"baseline":"alphabetic","align":"center","color":"#111","clip":false},"encoding":{"x":{"field":"k","type":"quantitative","scale":{"domain":[63,1456],"nice":false,"zero":false},"axis":null},"y":{"datum":-5,"type":"quantitative","scale":{"domain":[-5,2],"nice":false,"zero":false},"axis":null},"text":{"field":"l"}}},
{"data":{"values":[{"l":"Γ","k":63},{"l":"Γ","k":859}]},"mark":{"type":"text","font":"Liberation Serif","fontSize":22,"dy":36,"baseline":"alphabetic","align":"center","color":"#111","clip":false},"encoding":{"x":{"field":"k","type":"quantitative","scale":{"domain":[63,1456],"nice":false,"zero":false},"axis":null},"y":{"datum":-5,"type":"quantitative","scale":{"domain":[-5,2],"nice":false,"zero":false},"axis":null},"text":{"field":"l"}}}
],"resolve":{"axis":{"x":"independent","y":"independent"}}}
